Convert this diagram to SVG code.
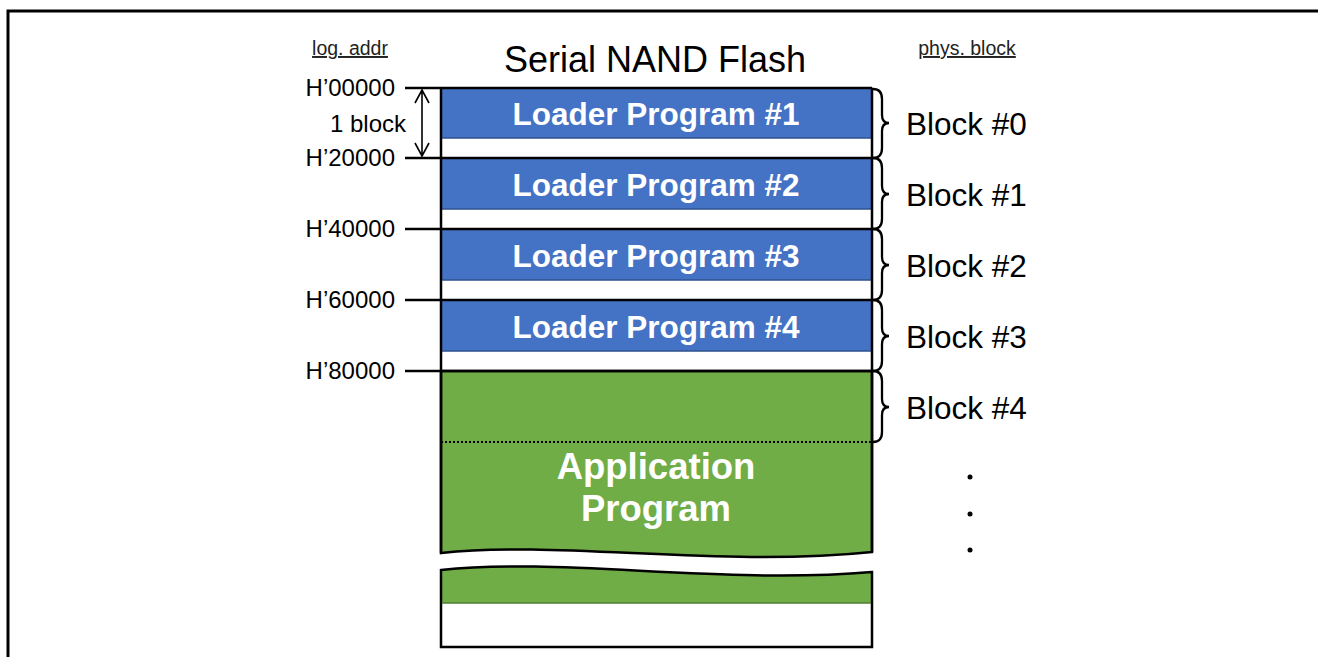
<svg xmlns="http://www.w3.org/2000/svg" width="1318" height="657" viewBox="0 0 1318 657">
<defs>
<style>
.t{font-family:"Liberation Sans",Arial,sans-serif;fill:#000}
.lp{font-family:"Liberation Sans",Arial,sans-serif;font-weight:bold;fill:#fff;font-size:31.5px;text-anchor:middle}
.ap{font-size:36.5px}
.addr{font-size:24px;text-anchor:end}
.blk{font-size:31.5px}
.hdr{font-size:19.5px;text-decoration:underline;fill:#222}
.blue{fill:#4472C4;stroke:#2F528F;stroke-width:1.5}
.ln{stroke:#000;stroke-width:2.5;fill:none}
.br{stroke:#000;stroke-width:2.3;fill:none}
</style>
</defs>
<rect width="1318" height="657" fill="#fff"/>
<path d="M8,657 V11 H1318" fill="none" stroke="#000" stroke-width="3"/>
<text class="t hdr" x="350" y="55" text-anchor="middle">log. addr</text>
<text class="t hdr" x="967" y="55" text-anchor="middle">phys. block</text>
<text class="t" x="655" y="72" font-size="36" text-anchor="middle">Serial NAND Flash</text>

<g id="block0"><rect class="blue" x="441" y="88" width="431" height="50"/><text class="lp" x="656" y="125">Loader Program #1</text></g>
<g id="block1"><rect class="blue" x="441" y="158" width="431" height="51"/><text class="lp" x="656" y="196">Loader Program #2</text></g>
<g id="block2"><rect class="blue" x="441" y="229" width="431" height="51"/><text class="lp" x="656" y="267">Loader Program #3</text></g>
<g id="block3"><rect class="blue" x="441" y="300" width="431" height="51"/><text class="lp" x="656" y="338">Loader Program #4</text></g>
<g id="app">
<path d="M441,371 H872 V552 C720,568 560,540 441,553 Z" fill="#70AD47" stroke="#000" stroke-width="2.5"/>
<line x1="441" y1="442" x2="872" y2="442" stroke="#000" stroke-width="2" stroke-dasharray="2,2"/>
<text class="lp ap" x="656" y="479">Application</text>
<text class="lp ap" x="656" y="521">Program</text>
</g>
<g id="tail">
<path d="M441,570 C560,557 720,585 872,572 V603 H441 Z" fill="#70AD47"/>
<path d="M441,570 C560,557 720,585 872,572 V647 H441 Z" fill="none" stroke="#000" stroke-width="2.5"/>
<line x1="442" y1="603" x2="871" y2="603" stroke="#507E32" stroke-width="1.5"/>
</g>

<g id="connectors">
<path class="ln" d="M441,88 V553 M872,88 V552"/>
<path class="ln" d="M405,88 H872 M405,158 H872 M405,229 H872 M405,300 H872 M405,371 H872"/>
<path stroke="#000" stroke-width="1.6" fill="none" d="M422,90 V156 M415,103 L422,90 L429,103 M415,143 L422,156 L429,143"/>
<path class="br" d="M873,89 Q882,89 882,99 V115 Q882,123 889,123 Q882,123 882,131 V148 Q882,158 873,158"/>
<path class="br" d="M873,158 Q882,158 882,168 V186 Q882,194 889,194 Q882,194 882,202 V219 Q882,229 873,229"/>
<path class="br" d="M873,229 Q882,229 882,239 V257 Q882,265 889,265 Q882,265 882,273 V290 Q882,300 873,300"/>
<path class="br" d="M873,300 Q882,300 882,310 V328 Q882,336 889,336 Q882,336 882,344 V361 Q882,371 873,371"/>
<path class="br" d="M873,371 Q882,371 882,381 V399 Q882,407 889,407 Q882,407 882,415 V432 Q882,442 873,442"/>
</g>

<g id="labels">
<text class="t addr" x="395" y="96">H’00000</text>
<text class="t" x="368" y="132" font-size="24" text-anchor="middle">1 block</text>
<text class="t addr" x="395" y="166">H’20000</text>
<text class="t addr" x="395" y="237">H’40000</text>
<text class="t addr" x="395" y="308">H’60000</text>
<text class="t addr" x="395" y="379">H’80000</text>
<text class="t blk" x="906" y="135">Block #0</text>
<text class="t blk" x="906" y="206">Block #1</text>
<text class="t blk" x="906" y="277">Block #2</text>
<text class="t blk" x="906" y="348">Block #3</text>
<text class="t blk" x="906" y="419">Block #4</text>
<circle cx="970" cy="477" r="2.5"/>
<circle cx="970" cy="514" r="2.5"/>
<circle cx="970" cy="550" r="2.5"/>
</g>
</svg>
